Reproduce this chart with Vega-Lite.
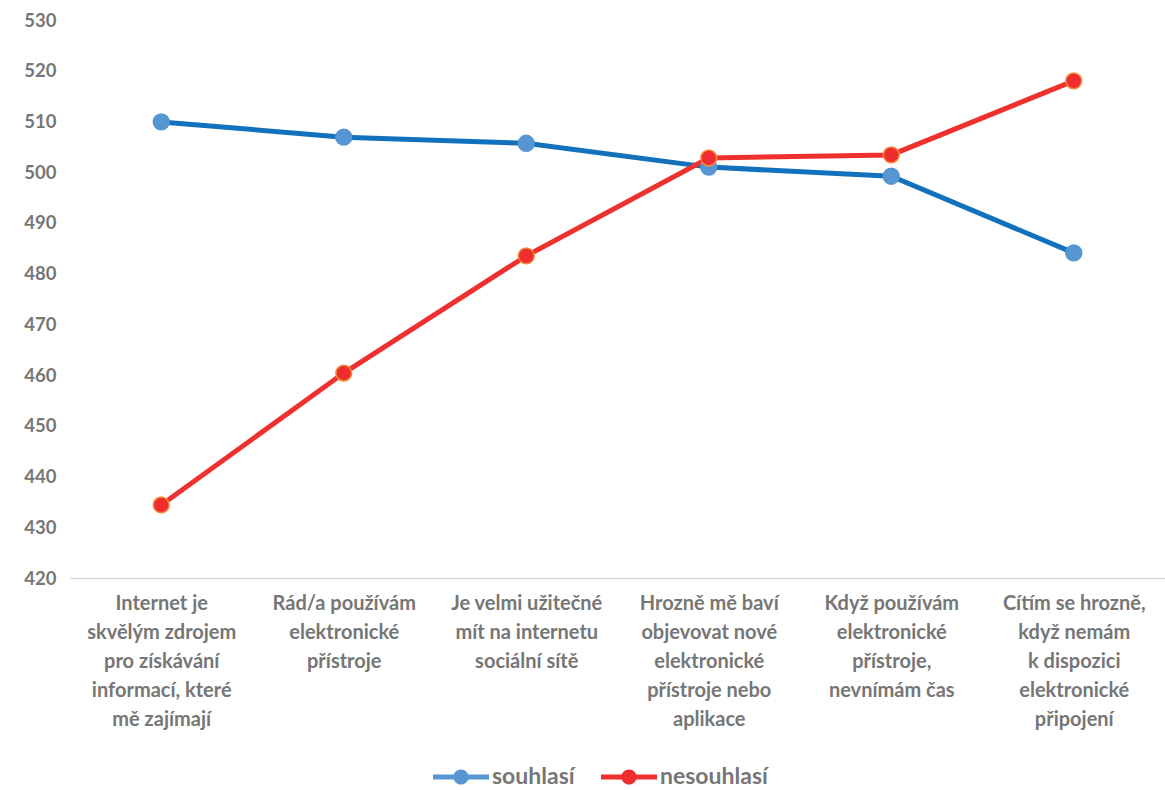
{
  "$schema": "https://vega.github.io/schema/vega-lite/v6.json",
  "width": 1095,
  "height": 558,
  "autosize": {"type": "none"},
  "padding": {"left": 70, "top": 20, "right": 0, "bottom": 212},
  "background": "white",
  "config": {
    "view": {"stroke": null},
    "font": "Lato"
  },
  "data": {
    "values": [
      {"kategorie": "Internet je\nskvělým zdrojem\npro získávání\ninformací, které\nmě zajímají", "skupina": "souhlasí", "hodnota": 509.9},
      {"kategorie": "Rád/a používám\nelektronické\npřístroje", "skupina": "souhlasí", "hodnota": 506.9},
      {"kategorie": "Je velmi užitečné\nmít na internetu\nsociální sítě", "skupina": "souhlasí", "hodnota": 505.7},
      {"kategorie": "Hrozně mě baví\nobjevovat nové\nelektronické\npřístroje nebo\naplikace", "skupina": "souhlasí", "hodnota": 501.0},
      {"kategorie": "Když používám\nelektronické\npřístroje,\nnevnímám čas", "skupina": "souhlasí", "hodnota": 499.2},
      {"kategorie": "Cítím se hrozně,\nkdyž nemám\nk dispozici\nelektronické\npřipojení", "skupina": "souhlasí", "hodnota": 484.1},
      {"kategorie": "Internet je\nskvělým zdrojem\npro získávání\ninformací, které\nmě zajímají", "skupina": "nesouhlasí", "hodnota": 434.4},
      {"kategorie": "Rád/a používám\nelektronické\npřístroje", "skupina": "nesouhlasí", "hodnota": 460.4},
      {"kategorie": "Je velmi užitečné\nmít na internetu\nsociální sítě", "skupina": "nesouhlasí", "hodnota": 483.5},
      {"kategorie": "Hrozně mě baví\nobjevovat nové\nelektronické\npřístroje nebo\naplikace", "skupina": "nesouhlasí", "hodnota": 502.8},
      {"kategorie": "Když používám\nelektronické\npřístroje,\nnevnímám čas", "skupina": "nesouhlasí", "hodnota": 503.4},
      {"kategorie": "Cítím se hrozně,\nkdyž nemám\nk dispozici\nelektronické\npřipojení", "skupina": "nesouhlasí", "hodnota": 518.0}
    ]
  },
  "encoding": {
    "x": {
      "field": "kategorie",
      "type": "nominal",
      "sort": null,
      "scale": {"type": "point", "padding": 0.5},
      "axis": {
        "title": null,
        "labelAngle": 0,
        "labelExpr": "split(datum.label, '\\n')",
        "labelFont": "Lato",
        "labelFontWeight": "bold",
        "labelFontSize": 20,
        "labelColor": "#767676",
        "labelLineHeight": 29,
        "labelPadding": 15,
        "labelLimit": 0,
        "labelBaseline": "top",
        "ticks": false,
        "grid": false,
        "domain": true,
        "domainColor": "#d9d9d9",
        "domainWidth": 1.5
      }
    },
    "y": {
      "field": "hodnota",
      "type": "quantitative",
      "scale": {"domain": [420, 530], "nice": false, "zero": false},
      "axis": {
        "title": null,
        "values": [420, 430, 440, 450, 460, 470, 480, 490, 500, 510, 520, 530],
        "labelFont": "Lato",
        "labelFontWeight": "bold",
        "labelFontSize": 18.5,
        "labelColor": "#767676",
        "labelPadding": 14,
        "ticks": false,
        "grid": false,
        "domain": false
      }
    }
  },
  "layer": [
    {
      "mark": {"type": "line", "strokeWidth": 5},
      "encoding": {
        "color": {
          "field": "skupina",
          "type": "nominal",
          "scale": {"domain": ["souhlasí", "nesouhlasí"], "range": ["#1271bc", "#ee302e"]},
          "legend": {
            "title": null,
            "orient": "none",
            "direction": "horizontal",
            "legendX": 363,
            "legendY": 729,
            "padding": 0,
            "symbolType": "M-1,-0.085 H1 V0.085 H-1 Z M0.27,0 A0.27,0.27 0 1,1 -0.27,0 A0.27,0.27 0 1,1 0.27,0 Z",
            "symbolSize": 3136,
            "symbolStrokeWidth": 0,
            "labelFont": "Lato",
            "labelFontWeight": "bold",
            "labelFontSize": 23,
            "labelColor": "#767676",
            "labelOffset": 3,
            "columnPadding": 26
          }
        }
      }
    },
    {
      "mark": {"type": "point", "filled": true, "size": 250, "opacity": 1, "strokeWidth": 1.5},
      "encoding": {
        "fill": {
          "field": "skupina",
          "type": "nominal",
          "scale": {"domain": ["souhlasí", "nesouhlasí"], "range": ["#5596d3", "#ee2e2e"]},
          "legend": null
        },
        "stroke": {
          "field": "skupina",
          "type": "nominal",
          "scale": {"domain": ["souhlasí", "nesouhlasí"], "range": ["#5596d3", "#f58a3a"]},
          "legend": null
        }
      }
    }
  ]
}
